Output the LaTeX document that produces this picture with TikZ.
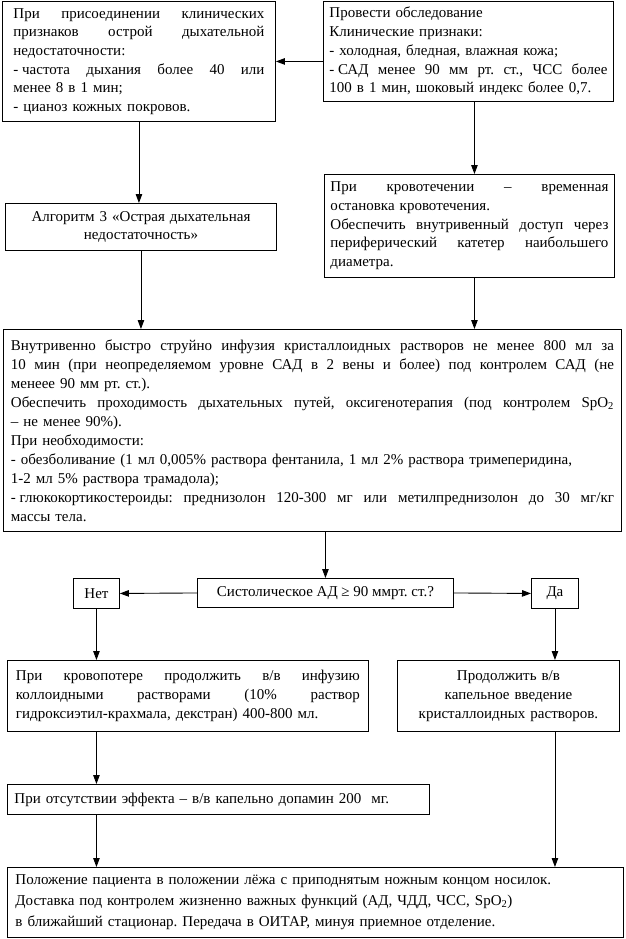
\documentclass[tikz,border=0pt]{standalone}
\usepackage{fontspec}
\setmainfont{Liberation Serif}
\usetikzlibrary{arrows.meta}
\newcommand{\jline}[1]{\makebox[\hsize][s]{\spaceskip=0pt\xspaceskip=0pt\relax #1}}
\newcommand{\fsp}{\hspace{0.25em}}
\tikzset{
  box/.style={draw, line width=0.9pt, anchor=north west, inner sep=0pt,
    font=\fontsize{15}{18.7}\selectfont\frenchspacing, align=left},
  cbox/.style={box, align=center},
  arr/.style={line width=0.9pt, -{Triangle[length=9pt,width=6.5pt]}},
}
\begin{document}
\begin{tikzpicture}[x=1pt,y=-1pt]
\useasboundingbox (0,0) rectangle (625,939);
\node[box, minimum width=273, minimum height=120, text width=251] (A) at (2,1)
 {\jline{При присоединении клинических}\\
  \jline{признаков острой дыхательной}\\
  недостаточности:\\
  \jline{-\fsp частота дыхания более 40 или}\\
  менее 8 в 1 мин;\\
  - цианоз кожных покровов.};
\node[box, minimum width=290, minimum height=100, text width=278] (B) at (323,1)
 {Провести обследование\\
  Клинические признаки:\\
  - холодная, бледная, влажная кожа;\\
  \jline{-\fsp САД менее 90 мм рт. ст., ЧСС более}\\
  100 в 1 мин, шоковый индекс более 0,7.};
\node[cbox, minimum width=271, minimum height=47, text width=260] (Alg) at (5,203)
 {Алгоритм 3 «Острая дыхательная\\ недостаточность»};
\node[box, minimum width=290, minimum height=103, text width=278] (C) at (324,174)
 {\jline{При кровотечении – временная}\\
  остановка кровотечения.\\
  \jline{Обеспечить внутривенный доступ через}\\
  \jline{периферический катетер наибольшего}\\
  диаметра.};
\node[box, minimum width=618, minimum height=202, text width=603,
  font=\fontsize{15}{19}\selectfont\frenchspacing] (D) at (3,329)
 {\jline{Внутривенно быстро струйно инфузия кристаллоидных растворов не менее 800 мл за}\\
  \jline{10 мин (при неопределяемом уровне САД в 2 вены и более) под контролем САД (не}\\
  менеее 90 мм рт. ст.).\\
  \jline{Обеспечить проходимость дыхательных путей, оксигенотерапия (под контролем SpO\textsubscript{2}}\\
  – не менее 90\%).\\
  При необходимости:\\
  - обезболивание (1 мл 0,005\% раствора фентанила, 1 мл 2\% раствора тримеперидина,\\
  1-2 мл 5\% раствора трамадола);\\
  \jline{-\fsp глюкокортикостероиды: преднизолон 120-300 мг или метилпреднизолон до 30 мг/кг}\\
  массы тела.};
\node[cbox, minimum width=256, minimum height=29] (Dec) at (197,578)
 {Систолическое АД ≥ 90 ммрт. ст.?};
\node[cbox, minimum width=46, minimum height=30] (Net) at (73,578) {Нет};
\node[cbox, minimum width=47, minimum height=30] (Da) at (531,578) {Да};
\node[box, minimum width=361, minimum height=71, text width=344] (E) at (7,660)
 {\jline{При кровопотере продолжить в/в инфузию}\\
  \jline{коллоидными растворами (10\% раствор}\\
  гидроксиэтил-крахмала, декстран) 400-800 мл.};
\node[cbox, minimum width=222, minimum height=71, text width=210] (F) at (397,660)
 {Продолжить в/в\\ капельное введение\\ кристаллоидных растворов.};
\node[box, minimum width=422, minimum height=30, text width=408] (G) at (7,784)
 {При отсутствии эффекта – в/в капельно допамин 200\ \ мг.};
\node[box, minimum width=616, minimum height=70, text width=600,
  font=\fontsize{15}{21}\selectfont\frenchspacing] (H) at (7,867)
 {Положение пациента в положении лёжа с приподнятым ножным концом носилок.\\
  Доставка под контролем жизненно важных функций (АД, ЧДД, ЧСС, SpO\textsubscript{2})\\
  в ближайший стационар. Передача в ОИТАР, минуя приемное отделение.};
% connectors
\draw[arr] (B.west |- A.east) -- (A.east);
\draw[arr] (A.south) -- (A.south |- Alg.north);
\draw[arr] ([xshift=6pt]B.south) -- ([xshift=6pt]B.south |- C.north);
\draw[arr] (Alg.south) -- (Alg.south |- D.north);
\draw[arr] ([xshift=5pt]C.south) -- ([xshift=5pt]C.south |- D.north);
\draw[arr] (Dec.north |- D.south) -- (Dec.north);
\draw[arr] (Dec.west) -- (Net.east);
\draw[arr] (Dec.east) -- (Da.west);
\draw[arr] (Net.south) -- (Net.south |- E.north);
\draw[arr] (Da.south) -- (Da.south |- F.north);
\draw[arr] (Net.south |- E.south) -- (Net.south |- G.north);
\draw[arr] (Net.south |- G.south) -- (Net.south |- H.north);
\draw[arr] (Da.south |- F.south) -- (Da.south |- H.north);
\end{tikzpicture}
\end{document}
